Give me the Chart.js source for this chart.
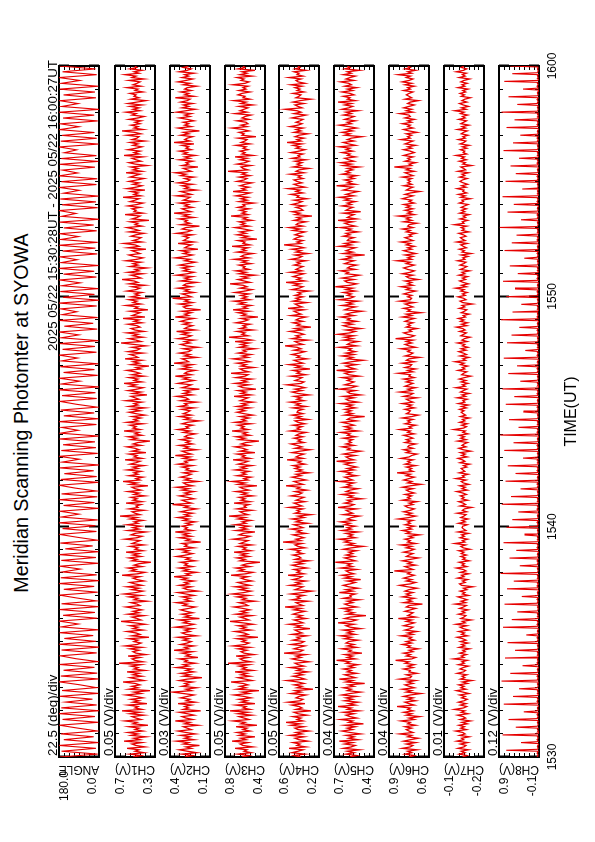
<!DOCTYPE html>
<html><head><meta charset="utf-8">
<script src="https://cdn.jsdelivr.net/npm/chart.js@4.4.1/dist/chart.umd.min.js"></script>
<style>
html,body{margin:0;padding:0;background:#fff;}
body{width:595px;height:842px;overflow:hidden;position:relative;font-family:"Liberation Sans",Arial,sans-serif;}
#land{position:absolute;left:0;top:0;width:842px;height:595px;transform-origin:0 0;transform:translate(0px,842px) rotate(-90deg);background:#fff;}
#land canvas{position:absolute;left:0;}
.t{position:absolute;white-space:nowrap;line-height:1;color:#000;font-family:"Liberation Sans",Arial,sans-serif;z-index:5;}
</style></head><body><div id="land"></div>
<script>
// ---------------- DATA ----------------
const titleText = 'Meridian Scanning Photomter at SYOWA';
const periodText = '2025 05/22 15:30:28UT - 2025 05/22 16:00:27UT';
const xTitleText = 'TIME(UT)';
const timeTickMinutes = [0, 10, 20, 30];          // minutes after 15:30
const timeLabels = ['1530', '1540', '1550', '1600'];
const panelNames = ['ANGLE', 'CH1(V)', 'CH2(V)', 'CH3(V)', 'CH4(V)', 'CH5(V)', 'CH6(V)', 'CH7(V)', 'CH8(V)'];
const divLabels = ['22.5 (deg)/div', '0.05 (V)/div', '0.03 (V)/div', '0.05 (V)/div', '0.05 (V)/div', '0.04 (V)/div', '0.04 (V)/div', '0.01 (V)/div', '0.12 (V)/div'];
const yMin = [0, 0.3, 0.1, 0.4, 0.2, 0.4, 0.6, -0.2, -0.1];
const yMax = [180, 0.7, 0.4, 0.8, 0.6, 0.7, 0.9, -0.1, 0.9];
const yMinLabels = ['0.0', '0.3', '0.1', '0.4', '0.2', '0.4', '0.6', '-0.2', '-0.1'];
const yMaxLabels = ['180.0', '0.7', '0.4', '0.8', '0.6', '0.7', '0.9', '-0.1', '0.9'];

const angleDeg = [
176,6,168,14,180,2,158,24,172,8,96,178,4,164,18,180,0,170,10,150,
30,176,4,166,12,88,180,2,172,8,160,20,178,6,104,174,10,168,0,180,
14,156,26,178,4,170,92,180,8,162,18,176,2,168,12,100,178,6,158,22,
180,0,172,10,166,84,176,4,170,14,180,2,152,28,174,8,98,178,12,164,
16,180,6,170,90,176,2,160,20,178,8,168,12,106,180,4,172,10,156,24,
176,0,166,88,180,6,170,14,162,18,178,2,174,94,168,12,180,4,158,22,
172,8,102,176,10,166,16,180,0,170,86,178,6,160,20,174,4,168,96,180,
12,164,18,176,2,170,90,180,8,156,26,178,6,166,100,172,10,180,0,162,
20,174,4,168,84,178,12,160,22,180,2,170,98,176,8,164,16,180,6,172,
92,176,10,158,24,178,0,168,104,180,6,166,14,174,2,160,88,178,12,170,
8,180,96,164,18,176,4,170,12,156,100,180,2,172,10,166,20,178,90,174,
6,162,22,180,0,168,94,176,14,160,18,178,4,170,86,180,10,164,16,176];

const ch1V = [
.52,.44,.55,.41,.50,.46,.58,.40,.49,.53,.43,.61,.45,.51,.39,.54,.47,.57,.42,.50,
.46,.56,.37,.52,.48,.60,.44,.49,.53,.41,.55,.45,.63,.43,.50,.47,.57,.38,.52,.46,
.54,.42,.49,.59,.44,.51,.35,.56,.47,.53,.45,.50,.62,.41,.48,.55,.43,.52,.46,.58,
.40,.51,.47,.54,.44,.66,.42,.50,.53,.45,.57,.39,.49,.52,.46,.55,.43,.60,.48,.44,
.51,.47,.56,.36,.53,.45,.49,.58,.42,.52,.47,.55,.40,.50,.64,.44,.48,.53,.41,.57,
.46,.52,.43,.50,.59,.45,.48,.54,.38,.51,.47,.56,.44,.61,.49,.42,.53,.46,.58,.43,
.50,.55,.41,.48,.52,.45,.63,.47,.40,.54,.49,.57,.43,.51,.46,.34,.53,.48,.56,.44,
.52,.46,.59,.42,.50,.47,.55,.41,.53,.49,.45,.60,.48,.43,.54,.50,.39,.57,.46,.52,
.44,.58,.47,.51,.42,.55,.48,.65,.45,.50,.53,.41,.56,.47,.49,.44,.59,.43,.52,.48,
.54,.40,.51,.46,.57,.44,.50,.53,.37,.55,.48,.62,.45,.49,.42,.56,.47,.51,.44,.58,
.47,.52,.41,.55,.49,.45,.60,.43,.51,.48,.56,.39,.53,.46,.50,.58,.44,.52,.47,.35,
.54,.48,.57,.43,.50,.46,.61,.45,.52,.49,.55,.42,.58,.47,.51,.44,.53,.40,.49,.56,
.45,.53,.40,.56,.47,.51,.43,.59,.46,.50,.54,.38,.52,.44,.57,.48,.42,.55,.49,.61,
.43,.51,.47,.56,.41,.53,.45,.50,.58,.44,.49,.36,.54,.46,.52,.43,.60,.47,.50,.55,
.42,.57,.48,.45,.53,.39,.51,.64,.44,.49,.56,.42,.52,.47,.58,.41,.50,.54,.45,.48,
.57,.43,.51,.46,.62,.40,.53,.49,.45,.55,.37,.50,.47,.59,.44,.52,.48,.56,.41,.54,
.46,.50,.43,.58,.49,.45,.53,.40,.56,.47,.51,.63,.44,.48,.54,.42,.57,.46,.50,.38,
.55,.47,.52,.44,.59,.48,.42,.51,.56,.45,.49,.53,.39,.57,.46,.50,.61,.43,.52,.47,
.44,.54,.49,.41,.56,.46,.51,.58,.43,.50,.47,.55,.36,.53,.48,.45,.60,.42,.51,.49,
.53,.45,.57,.48,.42,.55,.50,.46,.62,.44,.51,.47,.54,.40,.58,.49,.43,.52,.46,.56,
.48,.41,.55,.50,.45,.59,.43,.52,.47,.54,.38,.50,.56,.44,.49,.53,.42,.61,.46,.51,
.45,.57,.49,.43,.52,.47,.55,.40,.53,.48,.46,.58,.44,.50,.63,.42,.51,.47,.54,.45,
.50,.44,.56,.47,.41,.53,.49,.59,.45,.52,.46,.55,.43,.57,.48,.39,.54,.46,.51,.49,
.55,.42,.50,.47,.58,.44,.52,.48,.45,.56,.41,.53,.49,.60,.46,.51,.43,.55,.48,.50];

const ch2V = [
.29,.23,.31,.20,.27,.33,.24,.28,.18,.30,.26,.35,.22,.29,.25,.32,.21,.28,.34,.24,
.27,.30,.19,.29,.25,.36,.23,.28,.31,.22,.27,.33,.17,.30,.26,.29,.24,.34,.21,.28,
.25,.32,.27,.22,.30,.38,.24,.28,.20,.31,.26,.29,.23,.33,.27,.16,.30,.25,.32,.22,
.28,.24,.35,.26,.30,.21,.29,.27,.33,.19,.28,.25,.31,.23,.37,.26,.29,.22,.32,.27,
.24,.30,.26,.34,.20,.28,.31,.25,.29,.23,.36,.27,.22,.30,.26,.33,.18,.29,.25,.31,
.23,.28,.32,.26,.21,.30,.27,.35,.24,.29,.25,.31,.22,.28,.34,.19,.27,.30,.24,.33,
.26,.29,.22,.31,.27,.37,.25,.28,.20,.30,.26,.33,.23,.29,.27,.32,.21,.28,.25,.35,
.28,.23,.30,.26,.34,.22,.29,.27,.31,.17,.28,.25,.33,.24,.30,.26,.36,.23,.29,.27,
.31,.24,.28,.21,.30,.26,.34,.25,.29,.23,.32,.27,.20,.29,.26,.38,.24,.28,.31,.22,
.27,.33,.25,.29,.22,.31,.26,.35,.23,.28,.30,.19,.29,.25,.32,.27,.24,.30,.21,.28,
.26,.31,.23,.34,.27,.29,.22,.30,.25,.36,.24,.28,.31,.20,.29,.26,.33,.23,.28,.25,
.32,.24,.29,.27,.21,.30,.25,.34,.26,.28,.23,.31,.27,.18,.29,.25,.33,.24,.30,.27,
.25,.31,.22,.33,.27,.29,.20,.32,.26,.28,.35,.23,.30,.25,.29,.18,.31,.27,.24,.34,
.28,.22,.30,.26,.36,.24,.29,.27,.21,.32,.25,.30,.23,.37,.26,.28,.31,.20,.29,.25,
.33,.26,.24,.30,.19,.28,.32,.25,.29,.22,.34,.27,.24,.31,.26,.35,.21,.29,.27,.23,
.30,.25,.32,.28,.22,.36,.26,.29,.24,.31,.17,.28,.30,.25,.33,.23,.29,.26,.38,.24,
.27,.31,.22,.29,.26,.34,.24,.30,.28,.20,.32,.25,.29,.23,.35,.27,.22,.30,.26,.31,
.24,.33,.27,.21,.29,.25,.36,.28,.23,.30,.26,.32,.19,.29,.27,.24,.34,.22,.30,.28,
.26,.30,.23,.35,.27,.24,.31,.28,.18,.32,.25,.29,.27,.33,.22,.30,.26,.37,.24,.28,
.31,.23,.29,.26,.33,.21,.30,.27,.25,.35,.24,.28,.32,.20,.29,.26,.31,.23,.34,.27,
.25,.29,.22,.32,.28,.36,.24,.27,.30,.19,.31,.26,.28,.23,.33,.25,.29,.21,.30,.27,
.33,.24,.28,.26,.31,.22,.37,.25,.29,.27,.23,.32,.26,.30,.18,.28,.34,.24,.29,.26,
.30,.22,.27,.33,.25,.29,.24,.35,.28,.21,.31,.26,.30,.23,.32,.27,.25,.36,.22,.29,
.26,.32,.24,.29,.27,.20,.30,.25,.34,.28,.23,.31,.26,.29,.22,.33,.27,.24,.30,.26];

const ch3V = [
.63,.56,.67,.54,.61,.58,.70,.52,.62,.65,.57,.73,.59,.64,.50,.66,.60,.68,.55,.62,
.58,.69,.48,.64,.60,.72,.56,.61,.66,.53,.67,.57,.75,.55,.62,.59,.69,.50,.64,.58,
.66,.54,.61,.71,.56,.63,.46,.68,.59,.65,.57,.62,.74,.53,.60,.67,.55,.64,.58,.70,
.52,.63,.59,.66,.56,.77,.54,.62,.65,.57,.69,.51,.61,.64,.58,.67,.55,.72,.60,.56,
.63,.59,.68,.47,.65,.57,.61,.70,.54,.64,.59,.67,.52,.62,.75,.56,.60,.65,.53,.69,
.58,.64,.55,.62,.71,.57,.60,.66,.50,.63,.59,.68,.56,.73,.61,.54,.65,.58,.70,.55,
.62,.67,.53,.60,.64,.57,.74,.59,.52,.66,.61,.69,.55,.63,.58,.45,.65,.60,.68,.56,
.64,.58,.71,.54,.62,.59,.67,.53,.65,.61,.57,.72,.60,.55,.66,.62,.50,.69,.58,.64,
.56,.70,.59,.63,.54,.67,.60,.76,.57,.62,.65,.53,.68,.59,.61,.56,.71,.55,.64,.60,
.66,.52,.63,.58,.69,.56,.62,.65,.48,.67,.60,.73,.57,.61,.54,.68,.59,.63,.56,.70,
.59,.64,.53,.67,.61,.57,.72,.55,.63,.60,.68,.50,.65,.58,.62,.70,.56,.64,.59,.46,
.66,.60,.69,.55,.62,.58,.73,.57,.64,.61,.67,.54,.70,.59,.63,.56,.65,.52,.61,.68,
.60,.66,.55,.68,.58,.63,.52,.65,.61,.57,.71,.54,.64,.59,.67,.49,.62,.66,.56,.70,
.58,.63,.53,.69,.60,.57,.74,.56,.62,.65,.51,.64,.59,.68,.55,.61,.72,.57,.63,.54,
.67,.59,.62,.50,.66,.58,.64,.56,.70,.53,.61,.76,.57,.63,.60,.68,.52,.65,.59,.62,
.55,.69,.61,.57,.64,.47,.63,.59,.67,.56,.72,.58,.62,.54,.66,.60,.71,.55,.63,.58,
.64,.56,.70,.60,.53,.65,.58,.62,.75,.55,.61,.67,.57,.63,.50,.66,.59,.69,.56,.62,
.60,.66,.54,.63,.58,.71,.56,.64,.61,.52,.68,.59,.63,.57,.73,.55,.62,.60,.67,.48,
.63,.57,.68,.59,.65,.54,.61,.70,.56,.64,.60,.66,.53,.62,.58,.74,.57,.63,.59,.65,
.56,.67,.60,.62,.51,.66,.58,.64,.57,.69,.61,.55,.72,.59,.63,.56,.65,.60,.53,.68,
.61,.58,.66,.55,.63,.59,.77,.57,.62,.64,.54,.68,.60,.56,.65,.58,.70,.52,.63,.60,
.65,.57,.62,.59,.69,.55,.64,.60,.58,.67,.49,.63,.61,.66,.56,.62,.73,.58,.64,.57,
.59,.68,.56,.63,.60,.54,.70,.58,.65,.61,.57,.66,.52,.64,.59,.71,.55,.62,.60,.67,
.63,.55,.66,.59,.62,.57,.72,.60,.56,.64,.61,.68,.53,.65,.58,.63,.50,.67,.60,.62];

const ch4V = [
.38,.45,.34,.47,.41,.36,.50,.33,.42,.39,.46,.31,.40,.44,.35,.49,.37,.43,.30,.41,
.44,.35,.48,.39,.53,.36,.42,.38,.46,.32,.41,.45,.28,.43,.37,.40,.47,.34,.51,.39,
.36,.43,.40,.33,.48,.38,.44,.26,.42,.37,.45,.35,.41,.52,.34,.39,.46,.36,.43,.31,
.42,.37,.49,.35,.41,.44,.30,.40,.47,.38,.43,.33,.55,.39,.36,.45,.40,.34,.48,.38,
.35,.46,.39,.42,.32,.47,.37,.41,.44,.29,.43,.38,.50,.36,.40,.45,.33,.42,.37,.46,
.41,.34,.45,.38,.54,.36,.40,.43,.31,.47,.39,.42,.35,.48,.37,.27,.44,.40,.36,.49,
.38,.43,.33,.46,.40,.37,.51,.35,.42,.39,.45,.32,.41,.47,.36,.43,.30,.44,.38,.40,
.46,.36,.42,.39,.49,.34,.41,.44,.37,.56,.38,.43,.35,.40,.46,.33,.42,.38,.48,.36,
.40,.45,.31,.43,.38,.47,.35,.41,.28,.44,.39,.42,.36,.50,.37,.41,.45,.34,.43,.39,
.35,.48,.40,.37,.44,.32,.42,.39,.53,.36,.41,.45,.33,.40,.47,.38,.43,.30,.42,.37,
.44,.39,.46,.34,.41,.38,.52,.36,.43,.40,.35,.47,.39,.29,.44,.37,.42,.48,.35,.41,
.38,.45,.36,.43,.40,.33,.49,.39,.42,.37,.46,.34,.41,.44,.31,.43,.38,.47,.36,.42,
.41,.36,.46,.33,.43,.39,.49,.35,.42,.38,.45,.30,.41,.47,.37,.44,.34,.40,.52,.38,
.35,.44,.40,.37,.48,.33,.42,.39,.46,.29,.43,.38,.50,.36,.41,.45,.32,.42,.39,.47,
.40,.34,.45,.38,.42,.54,.36,.41,.44,.31,.47,.39,.43,.35,.40,.49,.37,.44,.28,.42,
.39,.46,.36,.43,.40,.33,.48,.38,.42,.45,.35,.51,.37,.41,.44,.32,.46,.39,.43,.36,
.44,.38,.41,.30,.47,.40,.36,.45,.39,.53,.34,.42,.38,.46,.41,.35,.49,.37,.43,.40,
.36,.45,.39,.42,.33,.48,.40,.37,.44,.31,.43,.38,.47,.35,.41,.55,.38,.42,.36,.45,
.42,.37,.44,.40,.34,.46,.39,.50,.36,.43,.41,.33,.45,.38,.42,.27,.44,.39,.47,.36,
.38,.43,.35,.47,.41,.37,.45,.32,.42,.40,.48,.36,.43,.39,.51,.34,.41,.45,.37,.42,
.45,.36,.41,.38,.49,.35,.43,.40,.30,.46,.38,.42,.37,.44,.33,.47,.39,.41,.36,.48,
.40,.34,.43,.39,.46,.37,.52,.38,.42,.35,.44,.40,.31,.45,.38,.43,.36,.49,.41,.37,
.43,.39,.36,.47,.40,.33,.45,.38,.42,.54,.37,.41,.44,.35,.46,.39,.28,.43,.40,.38,
.46,.35,.42,.39,.44,.37,.48,.34,.41,.43,.38,.50,.36,.42,.40,.45,.33,.44,.39,.41];

const ch5V = [
.58,.53,.61,.55,.60,.51,.63,.57,.54,.62,.56,.66,.52,.59,.55,.61,.50,.58,.64,.56,
.60,.54,.62,.48,.59,.56,.65,.53,.58,.61,.55,.63,.51,.60,.57,.67,.54,.59,.52,.62,
.56,.61,.53,.64,.58,.50,.60,.57,.63,.55,.59,.47,.61,.56,.66,.54,.58,.62,.53,.60,
.57,.63,.55,.59,.52,.61,.58,.68,.54,.60,.56,.62,.49,.59,.57,.64,.53,.60,.55,.61,
.59,.52,.62,.57,.65,.54,.60,.56,.63,.50,.58,.61,.55,.67,.57,.53,.62,.58,.46,.60,
.55,.61,.57,.64,.53,.59,.62,.56,.60,.51,.63,.57,.58,.54,.66,.56,.61,.52,.59,.63,
.58,.54,.60,.50,.62,.57,.64,.55,.59,.61,.53,.65,.56,.60,.57,.69,.54,.58,.62,.55,
.61,.56,.59,.53,.63,.57,.48,.60,.55,.62,.58,.66,.54,.59,.56,.61,.52,.64,.57,.60,
.54,.62,.58,.65,.55,.60,.57,.51,.63,.56,.59,.61,.53,.67,.58,.55,.62,.57,.60,.49,
.59,.56,.64,.54,.61,.58,.52,.63,.57,.60,.55,.66,.56,.59,.62,.53,.60,.57,.65,.55,
.60,.53,.58,.62,.56,.68,.55,.59,.61,.54,.63,.57,.50,.60,.58,.64,.55,.61,.57,.59,
.56,.63,.54,.60,.58,.65,.52,.61,.57,.62,.55,.59,.64,.53,.60,.58,.47,.62,.56,.61,
.57,.62,.54,.60,.56,.65,.52,.59,.61,.55,.63,.50,.58,.60,.54,.66,.57,.53,.62,.58,
.55,.60,.57,.64,.51,.59,.62,.56,.68,.54,.58,.61,.53,.63,.57,.48,.60,.56,.64,.55,
.61,.54,.59,.57,.66,.53,.60,.58,.52,.63,.56,.62,.55,.67,.58,.54,.61,.50,.59,.63,
.56,.62,.53,.60,.58,.65,.55,.61,.57,.49,.62,.59,.54,.64,.56,.60,.52,.66,.58,.55,
.60,.57,.63,.54,.61,.56,.69,.58,.53,.60,.62,.55,.64,.57,.51,.61,.59,.65,.54,.60,
.58,.53,.62,.59,.55,.64,.57,.60,.47,.63,.56,.61,.58,.54,.66,.57,.62,.53,.60,.59,
.55,.63,.58,.61,.52,.60,.57,.65,.54,.59,.62,.56,.67,.53,.60,.58,.55,.63,.50,.61,
.59,.56,.64,.57,.60,.54,.62,.58,.66,.55,.61,.57,.52,.63,.59,.56,.68,.54,.60,.57,
.62,.55,.59,.53,.64,.58,.61,.56,.60,.51,.63,.57,.65,.55,.59,.62,.54,.60,.58,.64,
.56,.61,.58,.66,.54,.59,.63,.55,.60,.57,.49,.62,.58,.64,.56,.61,.53,.59,.66,.57,
.60,.54,.62,.58,.55,.63,.57,.61,.52,.64,.59,.56,.62,.57,.67,.54,.60,.58,.63,.55,
.58,.64,.56,.60,.53,.62,.57,.59,.65,.55,.61,.58,.54,.63,.57,.60,.51,.62,.58,.60];

const ch6V = [
.75,.71,.78,.73,.76,.69,.80,.74,.72,.77,.70,.79,.74,.68,.76,.73,.82,.72,.75,.77,
.73,.78,.70,.76,.74,.81,.71,.75,.67,.77,.73,.79,.72,.76,.74,.84,.71,.75,.78,.70,
.76,.72,.79,.74,.66,.77,.73,.80,.71,.75,.78,.72,.76,.70,.82,.74,.73,.77,.69,.75,
.74,.79,.72,.76,.71,.78,.75,.85,.73,.70,.77,.74,.79,.72,.75,.68,.76,.74,.80,.73,
.77,.71,.75,.73,.81,.72,.76,.69,.78,.74,.72,.79,.75,.71,.77,.73,.83,.70,.76,.74,
.72,.78,.74,.70,.77,.75,.65,.79,.73,.76,.71,.80,.74,.77,.72,.78,.75,.69,.76,.82,
.74,.70,.77,.73,.79,.75,.71,.76,.74,.86,.72,.75,.78,.70,.76,.73,.80,.74,.68,.77,
.75,.72,.79,.74,.71,.77,.73,.81,.70,.76,.74,.78,.72,.75,.67,.77,.74,.80,.73,.76,
.71,.78,.74,.76,.72,.83,.75,.70,.77,.73,.79,.74,.71,.76,.78,.72,.75,.69,.80,.74,
.76,.73,.78,.71,.75,.77,.72,.80,.74,.66,.76,.73,.79,.75,.71,.77,.74,.84,.72,.75,
.73,.77,.70,.78,.74,.76,.72,.81,.75,.73,.69,.77,.74,.79,.72,.76,.75,.70,.78,.74,
.77,.72,.75,.79,.71,.76,.74,.82,.73,.75,.70,.78,.74,.76,.72,.80,.73,.68,.77,.75,
.74,.78,.71,.76,.73,.80,.72,.75,.77,.69,.79,.74,.72,.82,.73,.76,.70,.78,.75,.72,
.77,.73,.79,.71,.75,.74,.83,.72,.76,.70,.78,.74,.73,.80,.71,.77,.75,.67,.78,.74,
.72,.76,.74,.81,.70,.75,.78,.73,.77,.72,.85,.74,.71,.76,.79,.73,.75,.69,.77,.74,
.76,.72,.78,.75,.71,.80,.73,.77,.66,.76,.74,.79,.72,.75,.78,.71,.82,.74,.73,.76,
.73,.79,.75,.70,.77,.74,.81,.72,.76,.73,.78,.68,.75,.77,.72,.80,.74,.71,.76,.79,
.75,.71,.77,.74,.84,.73,.76,.72,.78,.70,.75,.79,.73,.76,.71,.77,.74,.81,.72,.75,
.78,.73,.75,.70,.77,.74,.80,.72,.76,.75,.69,.79,.73,.77,.74,.83,.71,.76,.73,.78,
.72,.77,.74,.79,.71,.75,.73,.80,.76,.72,.78,.74,.67,.77,.75,.72,.79,.73,.76,.74,
.76,.73,.80,.72,.75,.78,.71,.77,.74,.86,.73,.75,.70,.78,.74,.76,.72,.79,.75,.71,
.74,.79,.73,.76,.70,.78,.75,.72,.81,.74,.76,.73,.77,.69,.75,.79,.72,.76,.74,.80,
.73,.76,.71,.78,.74,.75,.82,.72,.77,.73,.79,.75,.71,.76,.74,.68,.78,.73,.75,.77,
.75,.72,.79,.74,.76,.71,.78,.73,.80,.75,.72,.77,.74,.83,.73,.76,.70,.78,.74,.76];

const ch7V = [
-.146,-.157,-.138,-.152,-.143,-.161,-.135,-.150,-.155,-.141,-.159,-.132,-.149,-.144,-.163,-.139,-.153,-.147,-.129,-.156,
-.142,-.151,-.137,-.158,-.145,-.166,-.140,-.154,-.148,-.134,-.160,-.143,-.152,-.126,-.149,-.157,-.141,-.155,-.136,-.150,
-.158,-.144,-.153,-.139,-.162,-.147,-.131,-.155,-.142,-.150,-.137,-.159,-.146,-.170,-.141,-.152,-.145,-.157,-.133,-.149,
-.154,-.140,-.148,-.161,-.136,-.151,-.145,-.158,-.124,-.150,-.143,-.156,-.139,-.153,-.147,-.164,-.138,-.152,-.144,-.160,
-.141,-.155,-.147,-.133,-.159,-.144,-.151,-.137,-.162,-.148,-.140,-.157,-.130,-.153,-.146,-.168,-.142,-.150,-.155,-.136,
-.152,-.145,-.160,-.139,-.149,-.156,-.128,-.154,-.143,-.158,-.147,-.135,-.161,-.146,-.152,-.140,-.157,-.149,-.172,-.144,
-.139,-.153,-.146,-.159,-.134,-.150,-.144,-.162,-.141,-.155,-.148,-.131,-.157,-.145,-.151,-.138,-.163,-.147,-.153,-.142,
-.156,-.143,-.150,-.137,-.165,-.148,-.142,-.154,-.127,-.152,-.146,-.159,-.140,-.151,-.144,-.161,-.135,-.155,-.149,-.145,
-.147,-.158,-.136,-.153,-.145,-.160,-.142,-.150,-.155,-.133,-.157,-.146,-.151,-.169,-.140,-.154,-.148,-.137,-.159,-.144,
-.150,-.141,-.156,-.147,-.132,-.158,-.145,-.153,-.139,-.162,-.148,-.143,-.155,-.130,-.151,-.146,-.160,-.138,-.152,-.147,
-.143,-.157,-.149,-.164,-.140,-.152,-.146,-.135,-.158,-.144,-.153,-.141,-.167,-.148,-.137,-.155,-.145,-.150,-.159,-.134,
-.155,-.142,-.151,-.138,-.160,-.147,-.153,-.125,-.149,-.156,-.144,-.158,-.139,-.152,-.146,-.163,-.141,-.154,-.148,-.143,
-.150,-.139,-.156,-.144,-.161,-.136,-.152,-.147,-.158,-.133,-.154,-.145,-.163,-.141,-.149,-.157,-.130,-.153,-.146,-.160,
-.143,-.155,-.138,-.151,-.167,-.144,-.149,-.157,-.135,-.152,-.146,-.159,-.141,-.150,-.128,-.154,-.147,-.162,-.140,-.156,
-.148,-.137,-.155,-.143,-.160,-.146,-.152,-.134,-.158,-.145,-.151,-.165,-.142,-.149,-.156,-.139,-.153,-.147,-.131,-.157,
-.144,-.159,-.141,-.150,-.136,-.154,-.148,-.163,-.143,-.151,-.157,-.138,-.152,-.145,-.171,-.147,-.140,-.155,-.149,-.135,
-.153,-.146,-.158,-.142,-.150,-.129,-.156,-.144,-.161,-.148,-.139,-.154,-.146,-.159,-.137,-.152,-.145,-.164,-.141,-.150,
-.157,-.140,-.149,-.155,-.134,-.152,-.147,-.160,-.143,-.168,-.145,-.151,-.138,-.156,-.148,-.142,-.158,-.132,-.153,-.146,
-.141,-.155,-.148,-.137,-.162,-.145,-.151,-.143,-.157,-.126,-.150,-.146,-.159,-.140,-.154,-.148,-.163,-.139,-.152,-.144,
-.156,-.143,-.151,-.160,-.138,-.149,-.145,-.166,-.142,-.153,-.136,-.157,-.147,-.150,-.133,-.155,-.144,-.159,-.148,-.140,
-.146,-.158,-.139,-.152,-.145,-.161,-.135,-.154,-.149,-.142,-.169,-.147,-.153,-.138,-.156,-.144,-.151,-.130,-.157,-.148,
-.152,-.141,-.157,-.146,-.163,-.140,-.150,-.155,-.136,-.153,-.147,-.160,-.143,-.149,-.158,-.134,-.154,-.145,-.162,-.142,
-.149,-.156,-.137,-.153,-.146,-.159,-.141,-.150,-.127,-.155,-.144,-.161,-.148,-.139,-.157,-.145,-.152,-.166,-.143,-.151,
-.140,-.154,-.147,-.160,-.135,-.152,-.145,-.158,-.142,-.150,-.164,-.138,-.153,-.146,-.156,-.131,-.149,-.157,-.143,-.150];

const ch8V = [
-.07,-.06,-.08,-.07,-.05,-.07,-.08,.72, -.06,-.08,-.07,-.06,-.07,-.09,-.07,.35, -.08,-.07,-.05,-.07,-.08,-.06,-.07,.81,
-.07,-.09,-.06,-.08,-.07,-.06,-.08,.48, -.06,-.07,-.08,-.07,-.06,-.08,-.07,.66, -.07,-.06,-.08,-.07,-.05,-.07,-.08,.28,
-.06,-.08,-.07,-.06,-.07,-.09,-.07,.78, -.08,-.07,-.05,-.07,-.08,-.06,-.07,.55, -.07,-.09,-.06,-.08,-.07,-.06,-.08,.40,
-.06,-.07,-.08,-.07,-.06,-.08,-.07,.84, -.07,-.06,-.08,-.07,-.05,-.07,-.08,.62, -.06,-.08,-.07,-.06,-.07,-.09,-.07,.31,
-.08,-.07,-.05,-.07,-.08,-.06,-.07,.75, -.07,-.09,-.06,-.08,-.07,-.06,-.08,.50, -.06,-.07,-.08,-.07,-.06,-.08,-.07,.69,
-.07,-.06,-.08,-.07,-.05,-.07,-.08,.22, -.06,-.08,-.07,-.06,-.07,-.09,-.07,.80, -.08,-.07,-.05,-.07,-.08,-.06,-.07,.58,
-.07,-.09,-.06,-.08,-.07,-.06,-.08,.44, -.06,-.07,-.08,-.07,-.06,-.08,-.07,.76, -.07,-.06,-.08,-.07,-.05,-.07,-.08,.33,
-.06,-.08,-.07,-.06,-.07,-.09,-.07,.70, -.08,-.07,-.05,-.07,-.08,-.06,-.07,.53, -.07,-.09,-.06,-.08,-.07,-.06,-.08,.86,
-.06,-.07,-.08,-.07,-.06,-.08,-.07,.38, -.07,-.06,-.08,-.07,-.05,-.07,-.08,.64, -.06,-.08,-.07,-.06,-.07,-.09,-.07,.47,
-.08,-.07,-.05,-.07,-.08,-.06,-.07,.79, -.07,-.09,-.06,-.08,-.07,-.06,-.08,.26, -.06,-.07,-.08,-.07,-.06,-.08,-.07,.71,
-.07,-.06,-.08,-.07,-.05,-.07,-.08,.57, -.06,-.08,-.07,-.06,-.07,-.09,-.07,.42, -.08,-.07,-.05,-.07,-.08,-.06,-.07,.83,
-.07,-.09,-.06,-.08,-.07,-.06,-.08,.60, -.06,-.07,-.08,-.07,-.06,-.08,-.07,.36, -.07,-.06,-.08,-.07,-.05,-.07,-.08,.74,
-.06,-.08,-.07,-.06,-.07,-.09,-.07,.49, -.08,-.07,-.05,-.07,-.08,-.06,-.07,.68, -.07,-.09,-.06,-.08,-.07,-.06,-.08,.30,
-.06,-.07,-.08,-.07,-.06,-.08,-.07,.77, -.07,-.06,-.08,-.07,-.05,-.07,-.08,.54, -.06,-.08,-.07,-.06,-.07,-.09,-.07,.87,
-.08,-.07,-.05,-.07,-.08,-.06,-.07,.41, -.07,-.09,-.06,-.08,-.07,-.06,-.08,.65, -.06,-.07,-.08,-.07,-.06,-.08,-.07,.29,
-.07,-.06,-.08,-.07,-.05,-.07,-.08,.73, -.06,-.08,-.07,-.06,-.07,-.09,-.07,.52, -.08,-.07,-.05,-.07,-.08,-.06,-.07,.82,
-.07,-.09,-.06,-.08,-.07,-.06,-.08,.37, -.06,-.07,-.08,-.07,-.06,-.08,-.07,.67, -.07,-.06,-.08,-.07,-.05,-.07,-.08,.45,
-.06,-.08,-.07,-.06,-.07,-.09,-.07,.78, -.08,-.07,-.05,-.07,-.08,-.06,-.07,.24, -.07,-.09,-.06,-.08,-.07,-.06,-.08,.70,
-.06,-.07,-.08,-.07,-.06,-.08,-.07,.59, -.07,-.06,-.08,-.07,-.05,-.07,-.08,.39, -.06,-.08,-.07,-.06,-.07,-.09,-.07,.85,
-.08,-.07,-.05,-.07,-.08,-.06,-.07,.56, -.07,-.09,-.06,-.08,-.07,-.06,-.08,.34, -.06,-.07,-.08,-.07,-.06,-.08,-.07,.72,
-.07,-.06,-.08,-.07,-.05,-.07,-.08,.50, -.06,-.08,-.07,-.06,-.07,-.09,-.07,.80, -.08,-.07,-.05,-.07,-.08,-.06,-.07,.43,
-.07,-.09,-.06,-.08,-.07,-.06,-.08,.63, -.06,-.07,-.08,-.07,-.06,-.08,-.07,.27, -.07,-.06,-.08,-.07,-.05,-.07,-.08,.76,
-.06,-.08,-.07,-.06,-.07,-.09,-.07,.58, -.08,-.07,-.05,-.07,-.08,-.06,-.07,.46, -.07,-.09,-.06,-.08,-.07,-.06,-.08,.88,
-.06,-.07,-.08,-.07,-.06,-.08,-.07,.35, -.07,-.06,-.08,-.07,-.05,-.07,-.08,.69, -.06,-.08,-.07,-.06,-.07,-.09,-.07,.53,
-.08,-.07,-.05,-.07,-.08,-.06,-.07,.81, -.07,-.09,-.06,-.08,-.07,-.06,-.08,.32, -.06,-.07,-.08,-.07,-.06,-.08,-.07,.74,
-.07,-.06,-.08,-.07,-.05,-.07,-.08,.48, -.06,-.08,-.07,-.06,-.07,-.09,-.07,.61, -.08,-.07,-.05,-.07,-.08,-.06,-.07,.40,
-.07,-.09,-.06,-.08,-.07,-.06,-.08,.79, -.06,-.07,-.08,-.07,-.06,-.08,-.07,.55, -.07,-.06,-.08,-.07,-.05,-.07,-.08,.37,
-.06,-.08,-.07,-.06,-.07,-.09,-.07,.71, -.08,-.07,-.05,-.07,-.08,-.06,-.07,.51, -.07,-.09,-.06,-.08,-.07,-.06,-.08,.84,
-.06,-.07,-.08,-.07,-.06,-.08,-.07,.44, -.07,-.06,-.08,-.07,-.05,-.07,-.08,.66, -.06,-.08,-.07,-.06,-.07,-.09,-.07,.30,
-.08,-.07,-.05,-.07,-.08,-.06,-.07,.77, -.07,-.09,-.06,-.08,-.07,-.06,-.08,.57, -.06,-.07,-.08,-.07,-.06,-.08,-.07,.62];

const seriesList = [angleDeg, ch1V, ch2V, ch3V, ch4V, ch5V, ch6V, ch7V, ch8V];

// ---------------- LAYOUT (landscape page, rotated onto portrait) ----------------
const W = 842;
const PANEL_TOP = [59, 115, 170, 225, 279, 334, 389, 444, 499];
const PANEL_H = 40;
const PLOT_LEFT = 85, PLOT_RIGHT = 776;
const LABEL_CX = 56;        // centre of value labels
const FONT = '"Liberation Sans", Arial, sans-serif';
const RED = 'rgb(230,0,0)';
const land = document.getElementById('land');

Chart.defaults.font.family = FONT;
Chart.defaults.color = '#000';

const mctx = document.createElement('canvas').getContext('2d');
mctx.font = '12px ' + FONT;

function addText(txt, x, yc, size, align) {
  const d = document.createElement('div');
  d.className = 't';
  d.textContent = txt;
  d.style.fontSize = size + 'px';
  d.style.top = (yc - size * 0.5) + 'px';
  if (align === 'right') d.style.right = (W - x) + 'px';
  else if (align === 'center') { d.style.left = x + 'px'; d.style.transform = 'translateX(-50%)'; }
  else d.style.left = x + 'px';
  land.appendChild(d);
}

const minorMinutes = Array.from({length: 31}, (_, k) => k);
const NOLINE = 'rgba(0,0,0,0)';

seriesList.forEach((vals, i) => {
  const last = i === seriesList.length - 1;
  const padTop = 20, axisH = last ? 45 : 0, padBottom = last ? 10 : 20;
  const ch = padTop + PANEL_H + axisH + padBottom;
  const cv = document.createElement('canvas');
  cv.width = W; cv.height = ch;
  cv.style.width = W + 'px'; cv.style.height = ch + 'px';
  cv.style.top = (PANEL_TOP[i] - padTop) + 'px';
  land.appendChild(cv);

  const n = vals.length;
  const pts = vals.map((v, k) => ({x: k * 30 / (n - 1), y: v}));
  const yTicks = Array.from({length: 9}, (_, k) => yMin[i] + k * (yMax[i] - yMin[i]) / 8);
  const widest = Math.max(mctx.measureText(yMaxLabels[i]).width, mctx.measureText(yMinLabels[i]).width);

  const yTickSet = s => { s.ticks = yTicks.map(v => ({value: v})); };
  const minorSet = s => { s.ticks = minorMinutes.map(v => ({value: v})); };
  const majorSet = s => { s.ticks = timeTickMinutes.map(v => ({value: v})); };
  const innerTicks = (len, w) => ({drawOnChartArea: false, drawTicks: true, tickLength: len, tickColor: '#000', tickWidth: w});

  new Chart(cv, {
    type: 'line',
    data: {datasets: [{data: pts, borderColor: RED, borderWidth: (i === 0 || last) ? 1.1 : 1.3, pointRadius: 0, tension: 0, fill: false, xAxisID: 'x', yAxisID: 'yIn'}]},
    options: {
      responsive: false, animation: false, devicePixelRatio: 1, events: [], parsing: false, normalized: true,
      layout: {autoPadding: false, padding: {left: 0, right: W - PLOT_RIGHT, top: padTop, bottom: padBottom}},
      plugins: {legend: {display: false}, tooltip: {enabled: false}, title: {display: false}},
      scales: {
        yIn: {
          type: 'linear', position: 'left', weight: 0, min: yMin[i], max: yMax[i],
          afterBuildTicks: yTickSet, afterFit: s => { s.width = 0; },
          grid: innerTicks(-4, 1),
          border: {display: true, color: '#000', width: 2},
          ticks: {display: false}
        },
        y: {
          type: 'linear', position: 'left', weight: 1, min: yMin[i], max: yMax[i],
          afterBuildTicks: yTickSet, afterFit: s => { s.width = PLOT_LEFT; },
          grid: {drawOnChartArea: false, drawTicks: true, tickLength: (PLOT_LEFT - LABEL_CX) - widest / 2, tickColor: NOLINE},
          border: {display: false},
          ticks: {autoSkip: false, crossAlign: 'center', padding: 0,
            color: '#000', font: {size: 12, lineHeight: 1},
            callback: (v, idx, arr) => idx === arr.length - 1 ? ['', yMaxLabels[i]] : (idx === 0 ? [yMinLabels[i], ''] : '')},
          title: {display: true, text: panelNames[i], color: '#000', font: {size: 12, lineHeight: 1.2}, padding: {top: 65, bottom: 0}}
        },
        yR: {
          type: 'linear', position: 'right', weight: 0, min: yMin[i], max: yMax[i],
          afterBuildTicks: yTickSet, afterFit: s => { s.width = 0; },
          grid: innerTicks(-4, 1),
          border: {display: true, color: '#000', width: 2},
          ticks: {display: false}
        },
        x: {
          type: 'linear', position: 'bottom', weight: 0, min: 0, max: 30,
          afterBuildTicks: minorSet, afterFit: s => { s.height = 0; },
          grid: innerTicks(-4, 1),
          border: {display: true, color: '#000', width: 2},
          ticks: {display: false}
        },
        xM: {
          type: 'linear', position: 'bottom', weight: 1, min: 0, max: 30,
          afterBuildTicks: majorSet, afterFit: s => { s.height = axisH; },
          grid: innerTicks(-10, 2),
          border: {display: false},
          ticks: {display: last, autoSkip: false, maxRotation: 0, minRotation: 0, padding: 16, color: '#000',
            font: {size: 12, lineHeight: 1.2}, callback: (v, idx) => timeLabels[idx]},
          title: {display: last, text: xTitleText, color: '#000', font: {size: 16, lineHeight: 1.2}, padding: {top: 0, bottom: 3}}
        },
        xT: {
          type: 'linear', position: 'top', weight: 0, min: 0, max: 30,
          afterBuildTicks: minorSet, afterFit: s => { s.height = 0; },
          grid: innerTicks(-4, 1),
          border: {display: true, color: '#000', width: 2},
          ticks: {display: false}
        },
        xTM: {
          type: 'linear', position: 'top', weight: 1, min: 0, max: 30,
          afterBuildTicks: majorSet, afterFit: s => { s.height = 0; },
          grid: innerTicks(-10, 2),
          border: {display: false},
          ticks: {display: false}
        }
      }
    }
  });

  addText(divLabels[i], PLOT_LEFT + 1, PANEL_TOP[i] - 6, 13.3, 'left');
});

addText(titleText, 429, 22, 19.7, 'center');
addText(periodText, 782, 52.5, 13.3, 'right');
</script></body></html>
